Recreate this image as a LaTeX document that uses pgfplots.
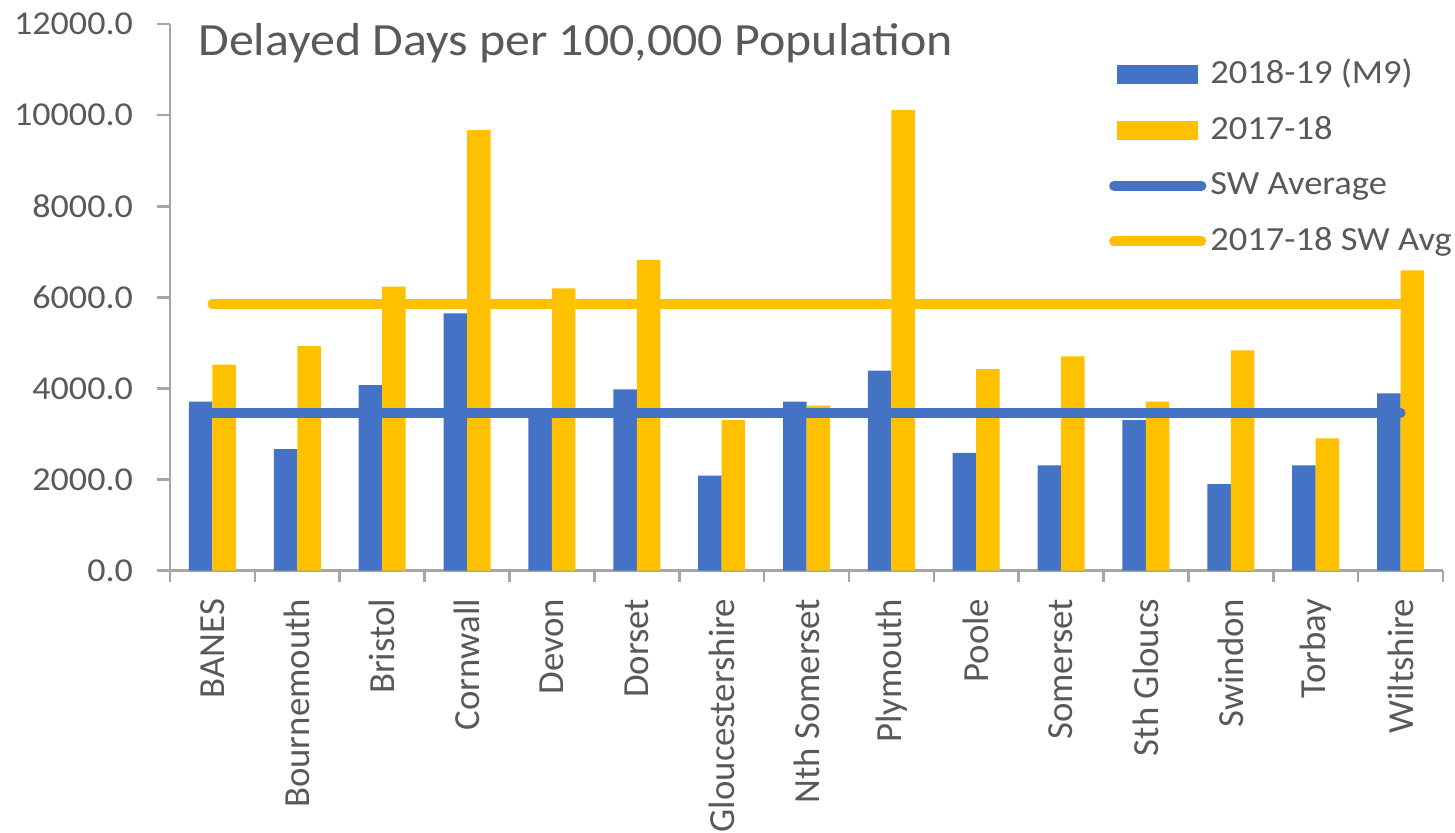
\documentclass[border=0pt]{standalone}
\usepackage{fontspec}
\setmainfont{Carlito}[FakeStretch=1.08]
\newfontfamily\rotfont{Carlito}
\usepackage{pgfplots}
\pgfplotsset{compat=1.18}
\definecolor{cblue}{HTML}{4472C4}
\definecolor{cyel}{HTML}{FFC000}
\definecolor{cgrid}{HTML}{A6A6A6}
\definecolor{ctext}{HTML}{595959}
\begin{document}
\begin{tikzpicture}
\begin{axis}[
  at={(0pt,0pt)}, anchor=south west,
  scale only axis, width=636.5pt, height=273.35pt,
  clip=false,
  xmin=-0.5, xmax=14.5, ymin=0, ymax=12000,
  axis x line=bottom, axis y line=left,
  axis line style={-, cgrid, line width=1.3pt},
  xtick={0,...,14},
  xticklabels={BANES,Bournemouth,Bristol,Cornwall,Devon,Dorset,Gloucestershire,Nth Somerset,Plymouth,Poole,Somerset,Sth Gloucs,Swindon,Torbay,Wiltshire},
  minor xtick={-0.5,0.5,...,14.5},
  ytick={0,2000,...,12000},
  scaled y ticks=false,
  tick align=outside,
  major tick length=6.5pt, minor tick length=5.5pt,
  tick style={cgrid, line width=1.3pt},
  major x tick style={draw=none},
  yticklabel shift=8.5pt,
  xticklabel shift=4pt,
  yticklabel style={font=\fontsize{16.7}{20}\selectfont, text=ctext,
    /pgf/number format/fixed, /pgf/number format/fixed zerofill,
    /pgf/number format/precision=1, /pgf/number format/1000 sep={},
    /pgf/number format/assume math mode=true},
  xticklabel style={rotate=90, anchor=east, font=\rotfont\fontsize{18.4}{20}\selectfont, text=ctext},
  legend style={at={(0.7374,0.7549)}, anchor=west, draw=none, fill=none, inner sep=0pt,
    font=\fontsize{16.9}{20}\selectfont, text=ctext, row sep=7.75pt,
    nodes={inner sep=2pt, text height=12.5pt, text depth=3.5pt}},
  legend cell align=left,
]
\addplot[ybar, bar width=11.75pt, bar shift=-5.875pt, fill=cblue, draw=none,
  legend image code/.code={\path (0pt,0pt) -- (43.65pt,0pt); \fill[cblue] (1.65pt,-4.7pt) rectangle (42pt,4.7pt);}]
  coordinates {(0,3709) (1,2671) (2,4076) (3,5650) (4,3560) (5,3981) (6,2085) (7,3709) (8,4390) (9,2584) (10,2313) (11,3308) (12,1903) (13,2313) (14,3894)};
\addlegendentry{2018-19 (M9)}
\addplot[ybar, bar width=11.75pt, bar shift=5.875pt, fill=cyel, draw=none,
  legend image code/.code={\path (0pt,0pt) -- (43.65pt,0pt); \fill[cyel] (1.65pt,-4.7pt) rectangle (42pt,4.7pt);}]
  coordinates {(0,4522) (1,4932) (2,6234) (3,9673) (4,6199) (5,6820) (6,3308) (7,3622) (8,10112) (9,4427) (10,4705) (11,3709) (12,4837) (13,2906) (14,6594)};
\addlegendentry{2017-18}
\addplot[cblue, line width=5pt, line cap=round,
  legend image code/.code={\path (0pt,0pt) -- (43.65pt,0pt); \draw[cblue, line width=5pt, line cap=round] (2.5pt,0pt) -- (41.15pt,0pt);}]
  coordinates {(0,3468) (14,3468)};
\addlegendentry{SW Average}
\addplot[cyel, line width=5pt, line cap=round,
  legend image code/.code={\path (0pt,0pt) -- (43.65pt,0pt); \draw[cyel, line width=5pt, line cap=round] (2.5pt,0pt) -- (41.15pt,0pt);}]
  coordinates {(0,5854) (14,5854)};
\addlegendentry{2017-18 SW Avg}
\node[anchor=base west, font=\fontsize{23.1}{28}\selectfont, text=ctext, inner sep=0pt]
  at (rel axis cs:0.022,0.943) {Delayed Days per 100,000 Population};
\end{axis}
\pgfresetboundingbox
\path (-85pt,-130.65pt) rectangle (642.5pt,285.35pt);
\end{tikzpicture}
\end{document}
